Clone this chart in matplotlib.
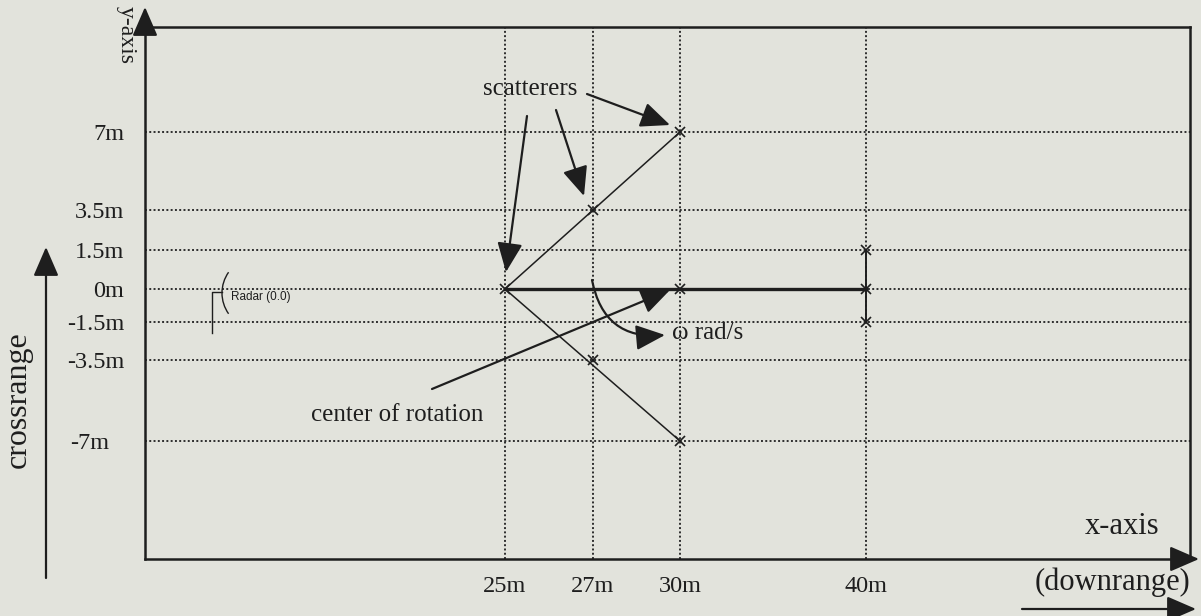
import numpy as np
import matplotlib
matplotlib.use("Agg")
import matplotlib.pyplot as plt
from matplotlib.patches import FancyArrowPatch, Arc, ArrowStyle
from matplotlib.transforms import ScaledTranslation

# ---- data (metres) ----
x_ticks = [25, 27, 30, 40]
y_ticks = [7, 3.5, 1.5, 0, -1.5, -3.5, -7]
x_labels = ["25m", "27m", "30m", "40m"]
y_labels = ["7m", "3.5m", "1.5m", "0m", "-1.5m", "-3.5m", "-7m"]

scat_x = [25, 27, 30, 27, 30, 30, 40, 40, 40]
scat_y = [0, 3.5, 7, -3.5, -7, 0, 1.5, 0, -1.5]

upper_arm_x, upper_arm_y = [25, 30], [0, 7]
lower_arm_x, lower_arm_y = [25, 30], [0, -7]
axis_x, axis_y = [25, 40], [0, 0]
bar_x, bar_y = [40, 40], [1.5, -1.5]

# ---- schematic (non-uniform) spacing of the sketch ----
W, H = 1201, 616
x_anchor_px = [505, 593, 680, 866]
y_anchor_px = [H - p for p in [132, 210, 250, 289, 322, 360, 441]][::-1]
y_anchor_m = sorted(y_ticks)

BG = "#e2e3dc"
INK = "#1e1e1e"
SERIF = "Liberation Serif"


def piecewise(src, dst):
    src = np.asarray(src, float)
    dst = np.asarray(dst, float)

    def f(v):
        v = np.asarray(v, float)
        out = np.interp(v, src, dst)
        lo = dst[0] + (v - src[0]) * (dst[1] - dst[0]) / (src[1] - src[0])
        hi = dst[-1] + (v - src[-1]) * (dst[-1] - dst[-2]) / (src[-1] - src[-2])
        return np.where(v < src[0], lo, np.where(v > src[-1], hi, out))
    return f


def P(x, y):
    """pixel position in the sketch -> figure fraction"""
    return (x / W, 1 - y / H)


fig = plt.figure(figsize=(W / 100, H / 100), dpi=100, facecolor=BG)
left, right, top, bottom = 145, 1190, 27, 559
ax = fig.add_axes([left / W, 1 - bottom / H, (right - left) / W, (bottom - top) / H])
ax.set_facecolor(BG)

fx, ix = piecewise(x_ticks, x_anchor_px), piecewise(x_anchor_px, x_ticks)
fy, iy = piecewise(y_anchor_m, y_anchor_px), piecewise(y_anchor_px, y_anchor_m)
ax.set_xscale("function", functions=(fx, ix))
ax.set_yscale("function", functions=(fy, iy))
ax.set_xlim(float(ix(left)), float(ix(right)))
ax.set_ylim(float(iy(H - bottom)), float(iy(H - top)))

ax.set_xticks(x_ticks, x_labels, fontsize=17.5, family=SERIF)
ax.set_yticks(y_ticks, y_labels, fontsize=17.5, family=SERIF)
ax.tick_params(length=0, colors=INK)
ax.tick_params(axis="x", pad=12)
ax.tick_params(axis="y", pad=15)
ax.grid(True, color="#2e2e2e", linestyle=(0, (1, 1.2)), linewidth=1.4)
for s in ax.spines.values():
    s.set_color(INK)
    s.set_linewidth(1.8)

# the -7m label sits a little further left in the sketch
lab = ax.get_yticklabels()[-1]
lab.set_transform(lab.get_transform() + ScaledTranslation(-0.15, 0, fig.dpi_scale_trans))

# arms, axis of rotation and the bar at 40 m
ax.plot(upper_arm_x, upper_arm_y, color=INK, lw=1.1)
ax.plot(lower_arm_x, lower_arm_y, color=INK, lw=1.1)
ax.plot(axis_x, axis_y, color=INK, lw=2.4)
ax.plot(bar_x, bar_y, color=INK, lw=1.4)
ax.plot(scat_x, scat_y, ls="none", marker="x", ms=7, mew=1.2, color=INK)

# ---- annotations ----
head = ArrowStyle("-|>", head_length=1.5, head_width=0.65)


def arrow(p0, p1, **kw):
    a = FancyArrowPatch(P(*p0), P(*p1), transform=fig.transFigure,
                        arrowstyle=head, mutation_scale=12, color=INK,
                        lw=1.6, shrinkA=0, shrinkB=0, **kw)
    fig.add_artist(a)


fig.text(*P(530, 89), "scatterers", fontsize=18, family=SERIF,
         ha="center", va="center", color=INK)
arrow((587, 94), (670, 125))
arrow((556, 110), (584, 196))
arrow((527, 116), (506, 272))

fig.text(*P(397, 415), "center of rotation", fontsize=18, family=SERIF,
         ha="center", va="center", color=INK)
arrow((432, 389), (670, 290))

arrow((592, 280), (665, 335), connectionstyle="arc3,rad=0.45")
fig.text(*P(672, 333), "\u03c9 rad/s", fontsize=18, family=SERIF,
         ha="left", va="center", color=INK)

# radar symbol
fig.add_artist(plt.Line2D([212 / W, 212 / W, 222 / W],
                          [1 - 333 / H, 1 - 292 / H, 1 - 292 / H],
                          transform=fig.transFigure, color=INK, lw=1.0))
fig.add_artist(Arc(P(258, 293), 72 / W, 72 / H, theta1=126, theta2=234,
                   transform=fig.transFigure, color=INK, lw=1.0))
fig.text(*P(231, 297), "Radar (0.0)", fontsize=8.5, family="Liberation Sans",
         ha="left", va="center", color=INK)

# axis arrows and names
arrow((145, 30), (145, 7))
arrow((1178, 559), (1199, 559))
fig.text(*P(1122, 534), "x-axis", fontsize=22, family=SERIF,
         ha="center", va="baseline", color=INK)
fig.text(*P(126, 35), "y-axis", fontsize=17, family=SERIF, rotation=-90,
         ha="center", va="center", color=INK)

fig.text(*P(1112, 582), "(downrange)", fontsize=22, family=SERIF,
         ha="center", va="center", color=INK)
arrow((1022, 609), (1196, 609))
fig.text(*P(18, 400), "crossrange", fontsize=23, family=SERIF, rotation=90,
         ha="center", va="center", color=INK)
arrow((46, 578), (46, 247))

fig.savefig("out.png", dpi=100, facecolor=BG)
